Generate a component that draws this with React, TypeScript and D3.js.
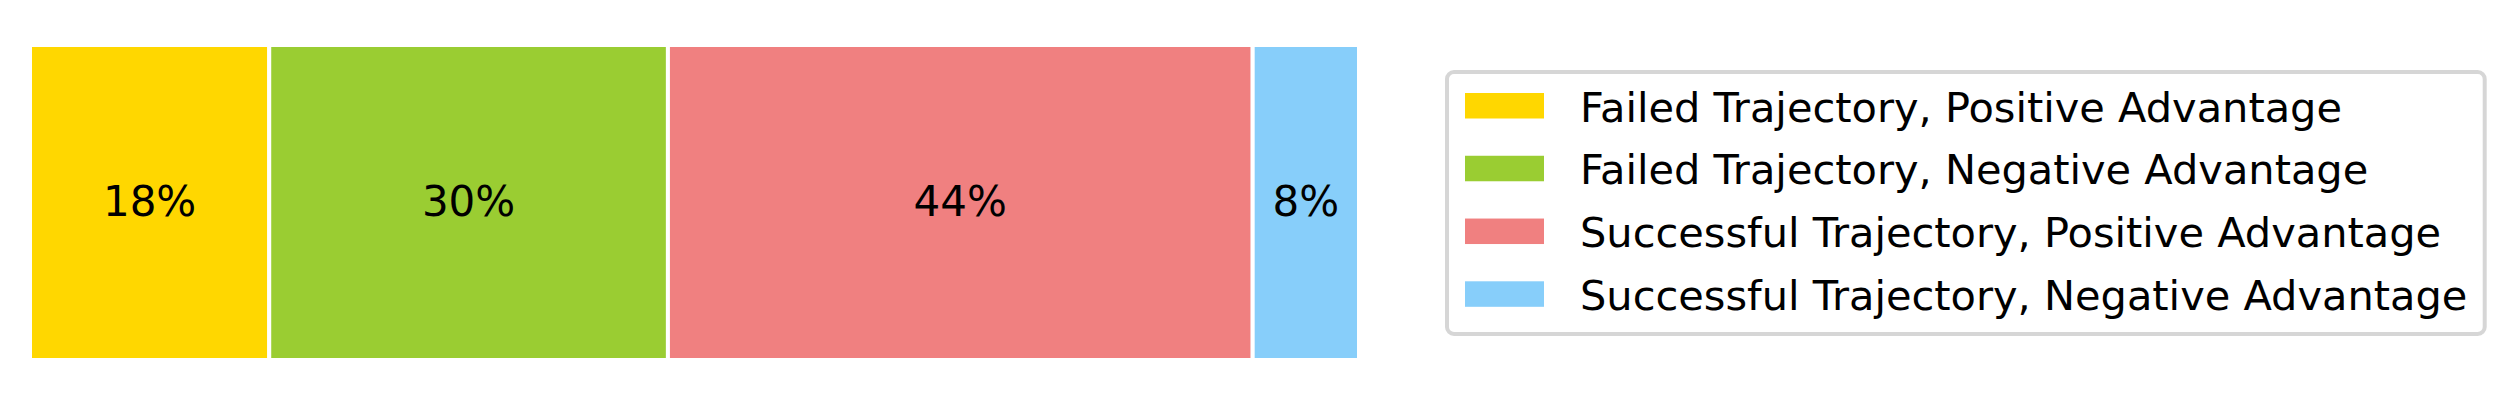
import React from "react";
import * as d3 from "d3";

const categories = [
  "Failed Trajectory, Positive Advantage",
  "Failed Trajectory, Negative Advantage",
  "Successful Trajectory, Positive Advantage",
  "Successful Trajectory, Negative Advantage",
];
const values = [18, 30, 44, 8];
const colors = ["#FFD700", "#9ACD32", "#F08080", "#87CEFA"];

const W = 2515;
const H = 406;
const FONT = "DejaVu Sans, sans-serif";

export default function App() {
  const x = d3.scaleLinear().domain([0, d3.sum(values)]).range([30, 1359]);
  const y0 = 45;
  const y1 = 360;
  const cum: number[] = [];
  values.reduce((acc, v) => {
    cum.push(acc);
    return acc + v;
  }, 0);

  const legendY = d3.scaleLinear().domain([0, 3]).range([106, 294.3]);
  const LFS = 41.5;

  return (
    <svg
      width={W}
      height={H}
      style={{ position: "absolute", left: 0, top: 0, background: "#fff" }}
      fontFamily={FONT}
    >
      <rect x={0} y={0} width={W} height={H} fill="#fff" />
      {values.map((v, i) => {
        const xs = x(cum[i]);
        const xe = x(cum[i] + v);
        return (
          <g key={i}>
            <rect
              x={xs}
              y={y0}
              width={xe - xs}
              height={y1 - y0}
              fill={colors[i]}
              stroke="#fff"
              strokeWidth={4}
            />
            <text
              x={(xs + xe) / 2}
              y={(y0 + y1) / 2 + 13.5}
              textAnchor="middle"
              fontSize={42}
              fill="#000"
            >
              {`${v}%`}
            </text>
          </g>
        );
      })}
      <rect
        x={1447}
        y={72}
        width={1037.7}
        height={262}
        rx={7}
        ry={7}
        fill="#fff"
        stroke="#d6d6d6"
        strokeWidth={4}
      />
      {categories.map((c, i) => {
        const cy = legendY(i);
        return (
          <g key={c}>
            <rect x={1465} y={cy - 13} width={79} height={25.5} fill={colors[i]} />
            <text x={1580} y={cy + 15.5} fontSize={LFS} fill="#000">
              {c}
            </text>
          </g>
        );
      })}
    </svg>
  );
}
